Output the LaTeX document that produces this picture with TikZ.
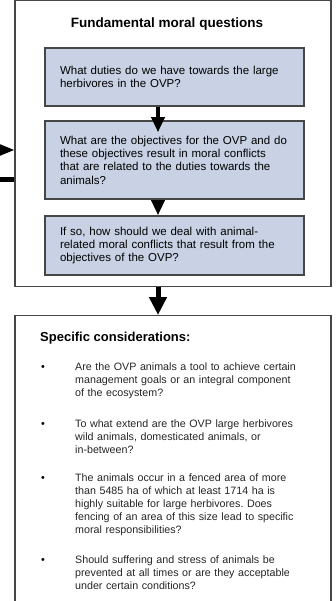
\documentclass[tikz,border=0pt]{standalone}
\usepackage{fontspec}
\setmainfont{Liberation Sans}
\usetikzlibrary{arrows.meta,calc,positioning}
\definecolor{qblue}{RGB}{200,210,228}
\definecolor{edge}{RGB}{70,70,70}
\frenchspacing

\begin{document}
\begin{tikzpicture}[x=1pt,y=-1pt]
		\useasboundingbox (0,0) rectangle (335,601);
		\tikzstyle{frame}=[draw=edge,line width=1.3pt,fill=white,inner sep=0pt,minimum width=316pt]
		\tikzstyle{question}=[draw=edge,line width=1.6pt,fill=qblue,text width=229pt,inner xsep=15pt,inner ysep=0pt,align=left,font=\fontsize{11.5}{13.4}\selectfont]
		\tikzstyle{bigarrow}=[line width=3.5pt,-{Triangle[length=15pt,width=13pt]}]
		\tikzstyle{item}=[anchor=base west,inner sep=0pt,text width=240pt,align=left,text=black!85,font=\fontsize{10.7}{13}\selectfont]
		% fundamental questions
		\node[frame,minimum height=286pt] (fmq) at (173,143.5) {};
		\node[font=\bfseries\fontsize{13.5}{16}\selectfont] (title) at (167,24) {Fundamental moral questions};
		\node[question,minimum height=58pt] (q1) at (174.5,77) {What duties do we have towards the large\\herbivores in the OVP?};
		\node[question,minimum height=78pt] (q2) at (174.5,160) {What are the objectives for the OVP and do\\these objectives result in moral conflicts\\that are related to the duties towards the\\animals?};
		\node[question,minimum height=59pt] (q3) at (174.5,245.5) {If so, how should we deal with animal-\\related moral conflicts that result from the\\objectives of the OVP?};
		% specific considerations
		\node[frame,minimum height=300pt,anchor=north] (sc) at (173,315) {};
		\node[anchor=west,inner sep=0pt,font=\bfseries\fontsize{13}{15}\selectfont] (head) at (40,338) {Specific considerations:};
		\foreach \n/\y in {1/370,2/427,3/481,4/563}
			\node[anchor=base,inner sep=0pt,font=\fontsize{10.7}{13}\selectfont] (b\n) at (43,\y) {\textbullet};
		\node[item] (i1) at (75,370) {Are the OVP animals a tool to achieve certain\\management goals or an integral component\\of the ecosystem?};
		\node[item] (i2) at (75,427) {To what extend are the OVP large herbivores\\wild animals, domesticated animals, or\\in-between?};
		\node[item] (i3) at (75,481) {The animals occur in a fenced area of more\\than 5485 ha of which at least 1714 ha is\\highly suitable for large herbivores. Does\\fencing of an area of this size lead to specific\\moral responsibilities?};
		\node[item] (i4) at (75,563) {Should suffering and stress of animals be\\prevented at all times or are they acceptable\\under certain conditions?};
		% arrows
		\coordinate (col) at (158,0);
		\coordinate (inL) at (-5,150);
		\coordinate (outL) at (0,180);
		\draw[bigarrow] (q1.south -| col) -- ($(q2.north -| col)+(0,12)$);
		\draw[bigarrow] (q2.south -| col) -- (q3.north -| col);
		\draw[line width=5pt,-{Triangle[length=18pt,width=17pt]}] (fmq.south -| col) -- (sc.north -| col);
		\draw[line width=3pt,-{Triangle[length=16pt,width=12pt]}] (inL) -- (inL -| fmq.west);
		\draw[line width=5pt] (fmq.west |- outL) -- (outL);
	\end{tikzpicture}
\end{document}
